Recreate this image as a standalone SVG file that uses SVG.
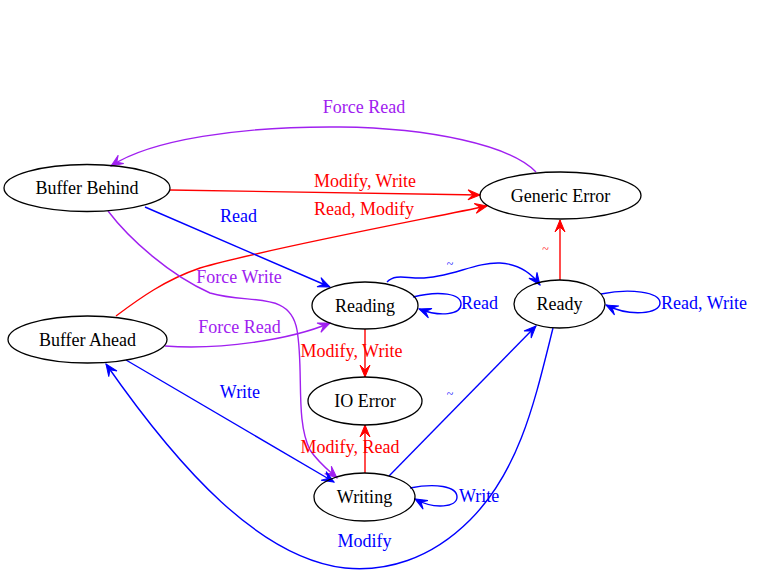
<svg xmlns="http://www.w3.org/2000/svg" width="757" height="575" viewBox="0 0 757 575">
<style>
.node ellipse{fill:none;stroke:#000;stroke-width:1.3}
.node text{font-size:18px;text-anchor:middle;fill:#000}
.edges path{fill:none;stroke-width:1.4}
.r{stroke:#ff0000}.b{stroke:#0000ff}.p{stroke:#a020f0}
.lbl{font-size:18px}
.lr{fill:#ff0000}.lb{fill:#0000ff}.lp{fill:#a020f0}
.t{font-size:12px;text-anchor:middle}
.m{text-anchor:middle}
</style>
<defs>
<marker id="ar" markerUnits="userSpaceOnUse" markerWidth="16" markerHeight="16" refX="0" refY="0" viewBox="-13 -8 16 16" orient="auto" overflow="visible"><path d="M0,0 L-12,-5 L-7,0 L-12,5 Z" fill="#ff0000" stroke="#ff0000" stroke-width="1"/></marker>
<marker id="ab" markerUnits="userSpaceOnUse" markerWidth="16" markerHeight="16" refX="0" refY="0" viewBox="-13 -8 16 16" orient="auto" overflow="visible"><path d="M0,0 L-12,-5 L-7,0 L-12,5 Z" fill="#0000ff" stroke="#0000ff" stroke-width="1"/></marker>
<marker id="ap" markerUnits="userSpaceOnUse" markerWidth="16" markerHeight="16" refX="0" refY="0" viewBox="-13 -8 16 16" orient="auto" overflow="visible"><path d="M0,0 L-12,-5 L-7,0 L-12,5 Z" fill="#a020f0" stroke="#a020f0" stroke-width="1"/></marker>
</defs>
<rect width="757" height="575" fill="#fff"/>
<g id="edges" class="edges">
<path class="p" d="M536,172 C510,145 430,128 340,127 C240,126 150,140 111,166" marker-end="url(#ap)"/>
<path class="r" d="M170,190 L480,195" marker-end="url(#ar)"/>
<path class="r" d="M116,316 C140,298 165,280 200,268 C260,250 420,220 487,206" marker-end="url(#ar)"/>
<path class="b" d="M145,207 L330,287" marker-end="url(#ab)"/>
<path class="p" d="M108,211 C130,240 170,275 210,293 C250,305 290,290 297,330 C304,370 295,420 310,450 C318,462 328,470 337,478" marker-end="url(#ap)"/>
<path class="p" d="M165,346 C220,350 290,340 330,323" marker-end="url(#ap)"/>
<path class="b" d="M126,360 L334,482" marker-end="url(#ab)"/>
<path class="b" d="M553,328 C535,400 520,470 470,520 C430,560 385,572 345,568 C260,558 180,470 106,364" marker-end="url(#ab)"/>
<path class="b" d="M387,282 C395,274 405,278 420,278 C450,278 475,262 500,263 C520,264 532,274 540,285" marker-end="url(#ab)"/>
<path class="b" d="M413,297 C440,290 461,294 461,304 C461,315 440,317 419,309" marker-end="url(#ab)"/>
<path class="b" d="M601,294 C630,288 660,292 660,303 C660,314 630,317 606,305" marker-end="url(#ab)"/>
<path class="b" d="M410,488 C435,483 457,486 457,497 C457,507 435,510 415,499" marker-end="url(#ab)"/>
<path class="r" d="M560,280 L560,220" marker-end="url(#ar)"/>
<path class="r" d="M365,329 L365,377" marker-end="url(#ar)"/>
<path class="r" d="M365,473 L365,425" marker-end="url(#ar)"/>
<path class="b" d="M389,476 L536,326" marker-end="url(#ab)"/>
</g>
<g id="labels" class="lbl" font-family="'Liberation Serif', 'Times New Roman', 'DejaVu Serif', serif">
<text class="lp m" x="364" y="113">Force Read</text>
<text class="lr m" x="365" y="187">Modify, Write</text>
<text class="lr m" x="364" y="215">Read, Modify</text>
<text class="lb m" x="238.5" y="222">Read</text>
<text class="lp m" x="239" y="283">Force Write</text>
<text class="lb t" x="450" y="268">~</text>
<text class="lr t" x="545.5" y="253">~</text>
<text class="lb" x="461" y="309">Read</text>
<text class="lb" x="661" y="309">Read, Write</text>
<text class="lp m" x="239.5" y="333">Force Read</text>
<text class="lr m" x="351.5" y="357">Modify, Write</text>
<text class="lb m" x="240" y="398">Write</text>
<text class="lb t" x="450" y="398">~</text>
<text class="lr m" x="350" y="453">Modify, Read</text>
<text class="lb" x="459" y="502">Write</text>
<text class="lb m" x="364.5" y="547">Modify</text>
</g>
<g font-family="'Liberation Serif', 'Times New Roman', 'DejaVu Serif', serif">
<g id="buffer_behind" class="node"><ellipse cx="87" cy="188" rx="83" ry="23.5"/><text x="87" y="194">Buffer Behind</text></g>
<g id="generic_error" class="node"><ellipse cx="560.5" cy="195.5" rx="80.5" ry="23.5"/><text x="560.5" y="201.5">Generic Error</text></g>
<g id="reading" class="node"><ellipse cx="365" cy="305.5" rx="53" ry="23.5"/><text x="365" y="311.5">Reading</text></g>
<g id="ready" class="node"><ellipse cx="559.5" cy="304" rx="45.5" ry="24"/><text x="559.5" y="310">Ready</text></g>
<g id="buffer_ahead" class="node"><ellipse cx="87.5" cy="339.5" rx="79.5" ry="23.5"/><text x="87.5" y="345.5">Buffer Ahead</text></g>
<g id="io_error" class="node"><ellipse cx="365" cy="401" rx="57" ry="24"/><text x="365" y="407">IO Error</text></g>
<g id="writing" class="node"><ellipse cx="364.5" cy="497" rx="50.5" ry="24"/><text x="364.5" y="503">Writing</text></g>
</g>
</svg>
